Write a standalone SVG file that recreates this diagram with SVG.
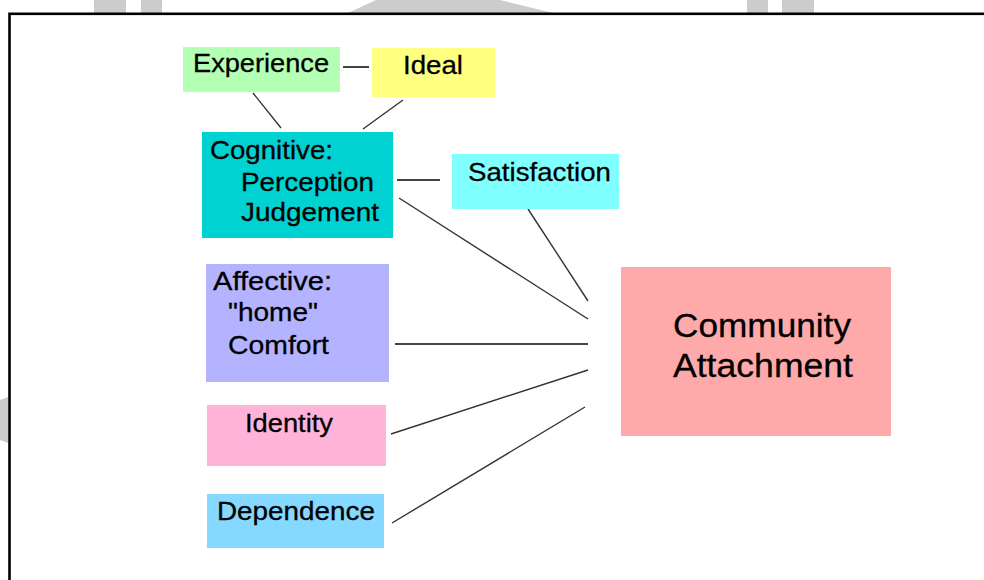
<svg xmlns="http://www.w3.org/2000/svg" width="984" height="580" viewBox="0 0 984 580">
<style>
.t{font-family:"Liberation Sans",Arial,sans-serif;font-size:26px;fill:#000;stroke:#000;stroke-width:0.3}
.big{font-size:34px}
.c line{stroke:#333;stroke-width:1.4}
.c .h{stroke:#444;stroke-width:2}
.wm{fill:#cccccc}
</style>
<rect width="984" height="580" fill="#ffffff"/>
<g id="watermark">
<rect class="wm" x="94" y="0" width="32" height="13"/>
<rect class="wm" x="141" y="0" width="21" height="13"/>
<polygon class="wm" points="376,0 500,0 553,13 348,13"/>
<rect class="wm" x="747" y="0" width="21" height="13"/>
<rect class="wm" x="782" y="0" width="32" height="13"/>
<polygon class="wm" points="0,400 8,397 8,443 0,440"/>
</g>
<rect id="frame" x="9.5" y="13.8" width="1000" height="600" fill="none" stroke="#000" stroke-width="2.6"/>
<g id="connectors" class="c">
<line class="h" x1="343" y1="67" x2="369" y2="67"/>
<line x1="253" y1="93" x2="281" y2="128"/>
<line x1="403" y1="100" x2="363" y2="129"/>
<line class="h" x1="397" y1="180" x2="440" y2="180"/>
<line x1="399" y1="198" x2="588" y2="319"/>
<line x1="528" y1="209" x2="588" y2="301"/>
<line class="h" x1="395" y1="344" x2="588" y2="344"/>
<line x1="391" y1="434" x2="588" y2="370"/>
<line x1="392" y1="523" x2="585" y2="407"/>
</g>
<g id="experience">
<rect x="183" y="47" width="157" height="45" fill="#b3ffb3"/>
<text class="t" x="193" y="72" textLength="136" lengthAdjust="spacingAndGlyphs">Experience</text>
</g>
<g id="ideal">
<rect x="372" y="48" width="123" height="49" fill="#ffff80"/>
<text class="t" x="403" y="74" textLength="60" lengthAdjust="spacingAndGlyphs">Ideal</text>
</g>
<g id="cognitive">
<rect x="202" y="132" width="191" height="106" fill="#00d2d2"/>
<text class="t" x="210" y="159" textLength="123" lengthAdjust="spacingAndGlyphs">Cognitive:</text>
<text class="t" x="241" y="191" textLength="133" lengthAdjust="spacingAndGlyphs">Perception</text>
<text class="t" x="241" y="221" textLength="138" lengthAdjust="spacingAndGlyphs">Judgement</text>
</g>
<g id="satisfaction">
<rect x="452" y="154" width="167" height="55" fill="#80ffff"/>
<text class="t" x="468" y="181" textLength="143" lengthAdjust="spacingAndGlyphs">Satisfaction</text>
</g>
<g id="affective">
<rect x="206" y="264" width="183" height="118" fill="#b3b3ff"/>
<text class="t" x="213" y="290" textLength="119" lengthAdjust="spacingAndGlyphs">Affective:</text>
<text class="t" x="228" y="321" textLength="90" lengthAdjust="spacingAndGlyphs">"home"</text>
<text class="t" x="228" y="354" textLength="101" lengthAdjust="spacingAndGlyphs">Comfort</text>
</g>
<g id="identity">
<rect x="207" y="405" width="179" height="61" fill="#ffb3d9"/>
<text class="t" x="245" y="432" textLength="88" lengthAdjust="spacingAndGlyphs">Identity</text>
</g>
<g id="dependence">
<rect x="207" y="494" width="177" height="54" fill="#85d8ff"/>
<text class="t" x="217" y="520" textLength="158" lengthAdjust="spacingAndGlyphs">Dependence</text>
</g>
<g id="community-attachment">
<rect x="621" y="267" width="270" height="169" fill="#ffaaaa"/>
<text class="t big" x="673" y="337" textLength="178" lengthAdjust="spacingAndGlyphs">Community</text>
<text class="t big" x="673" y="377" textLength="180" lengthAdjust="spacingAndGlyphs">Attachment</text>
</g>
</svg>
